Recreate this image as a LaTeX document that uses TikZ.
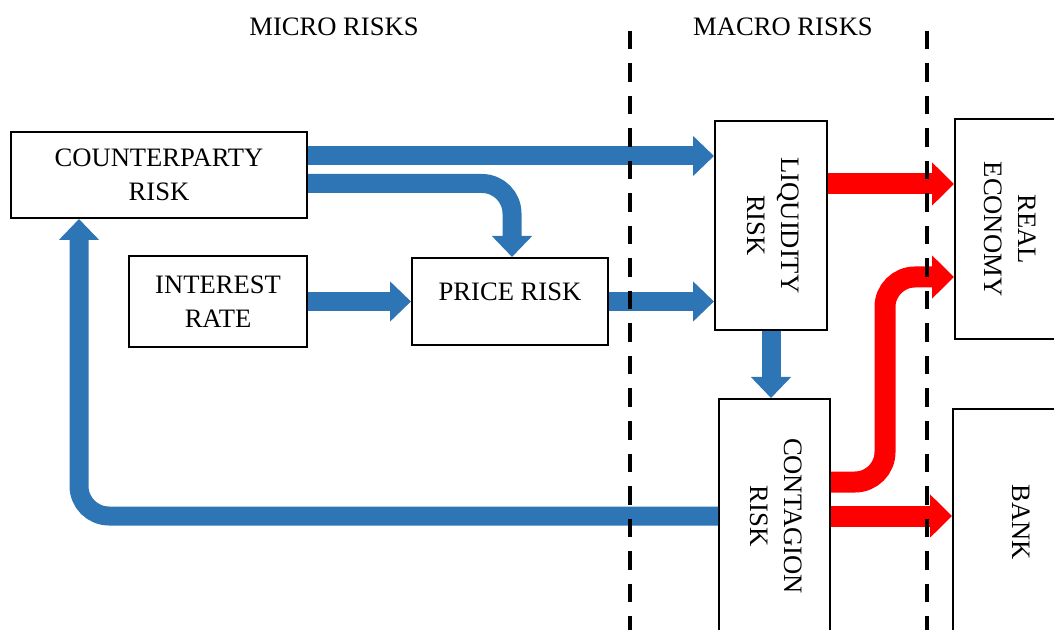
\documentclass[tikz,border=0pt]{standalone}
\usepackage{fontspec}
\setmainfont{Liberation Serif}
\usepackage{graphicx}
\usetikzlibrary{arrows.meta,calc}
\definecolor{flowblue}{HTML}{2E75B6}
\definecolor{flowred}{HTML}{FF0000}
\newcommand{\vtext}[1]{\rotatebox{-90}{\begin{tabular}{@{}c@{}}#1\end{tabular}}}
\begin{document}
\begin{tikzpicture}[x=0.5pt,y=-0.5pt,
  box/.style={draw=black,line width=1pt,fill=white,inner sep=0pt,align=center,
    font=\fontsize{13.3}{17}\selectfont},
  bluearrow/.style={draw=flowblue,line width=9.5pt,rounded corners=15pt,
    -{Triangle[length=10.5pt,width=19.5pt]}},
  redarrow/.style={draw=flowred,line width=10.5pt,rounded corners=15pt,
    -{Triangle[length=11pt,width=21pt]}},
  divider/.style={draw=black,line width=2pt,dash pattern=on 9.25pt off 7pt},
  title/.style={font=\fontsize{13.3}{17}\selectfont,inner sep=0pt}]
\useasboundingbox (0,0) rectangle (1054,630);
\clip (0,0) rectangle (1054,630);

% titles
\node[title] (micro) at (334,27) {MICRO RISKS};
\node[title] (macro) at (783,27) {MACRO RISKS};

% boxes
\node[box,minimum width=148pt,minimum height=43pt] (counter) at (159,175) {COUNTERPARTY\\RISK};
\node[box,minimum width=89pt,minimum height=45.5pt] (interest) at (218,301.5) {INTEREST\\RATE};
\node[box,minimum width=98pt,minimum height=43.5pt,text depth=10pt] (price) at (510,301.5) {PRICE RISK};
\node[box,minimum width=56pt,minimum height=104.5pt] (liq) at (771,225.5) {\vtext{LIQUIDITY\\RISK}};
\node[box,minimum width=55.5pt,minimum height=117pt] (cont) at (774.5,516) {\vtext{CONTAGION\\RISK}};
\node[box,minimum width=53pt,minimum height=110pt] (real) at (1008,229) {\vtext{REAL\\ECONOMY}};
\node[box,minimum width=66pt,minimum height=113pt] (bank) at (1019,522) {\vtext{BANK}};

% blue connectors
\draw[bluearrow] (counter.east |- 0,156) -- (liq.west |- 0,156);
\draw[bluearrow] (counter.east |- 0,183.5) -| ([xshift=1pt]price.north);
\draw[bluearrow] (interest.east) -- (price.west);
\draw[bluearrow] (price.east) -- (liq.west |- price.east);
\draw[bluearrow] (liq.south) -- (liq.south |- cont.north);
\draw[bluearrow] (cont.west) -| ([xshift=34.5pt]counter.south west);

% red connectors
\draw[redarrow] (liq.east |- 0,184) -- (real.west |- 0,184);
\draw[redarrow] (cont.east |- 0,482) -- (885,482) -- (885,277) -- (real.west |- 0,277);
\draw[redarrow] (cont.east) -- (bank.west |- cont.east);

% dividers
\draw[divider] (630,31) -- (630,640);
\draw[divider] (926.5,31) -- (926.5,640);
\end{tikzpicture}
\end{document}
